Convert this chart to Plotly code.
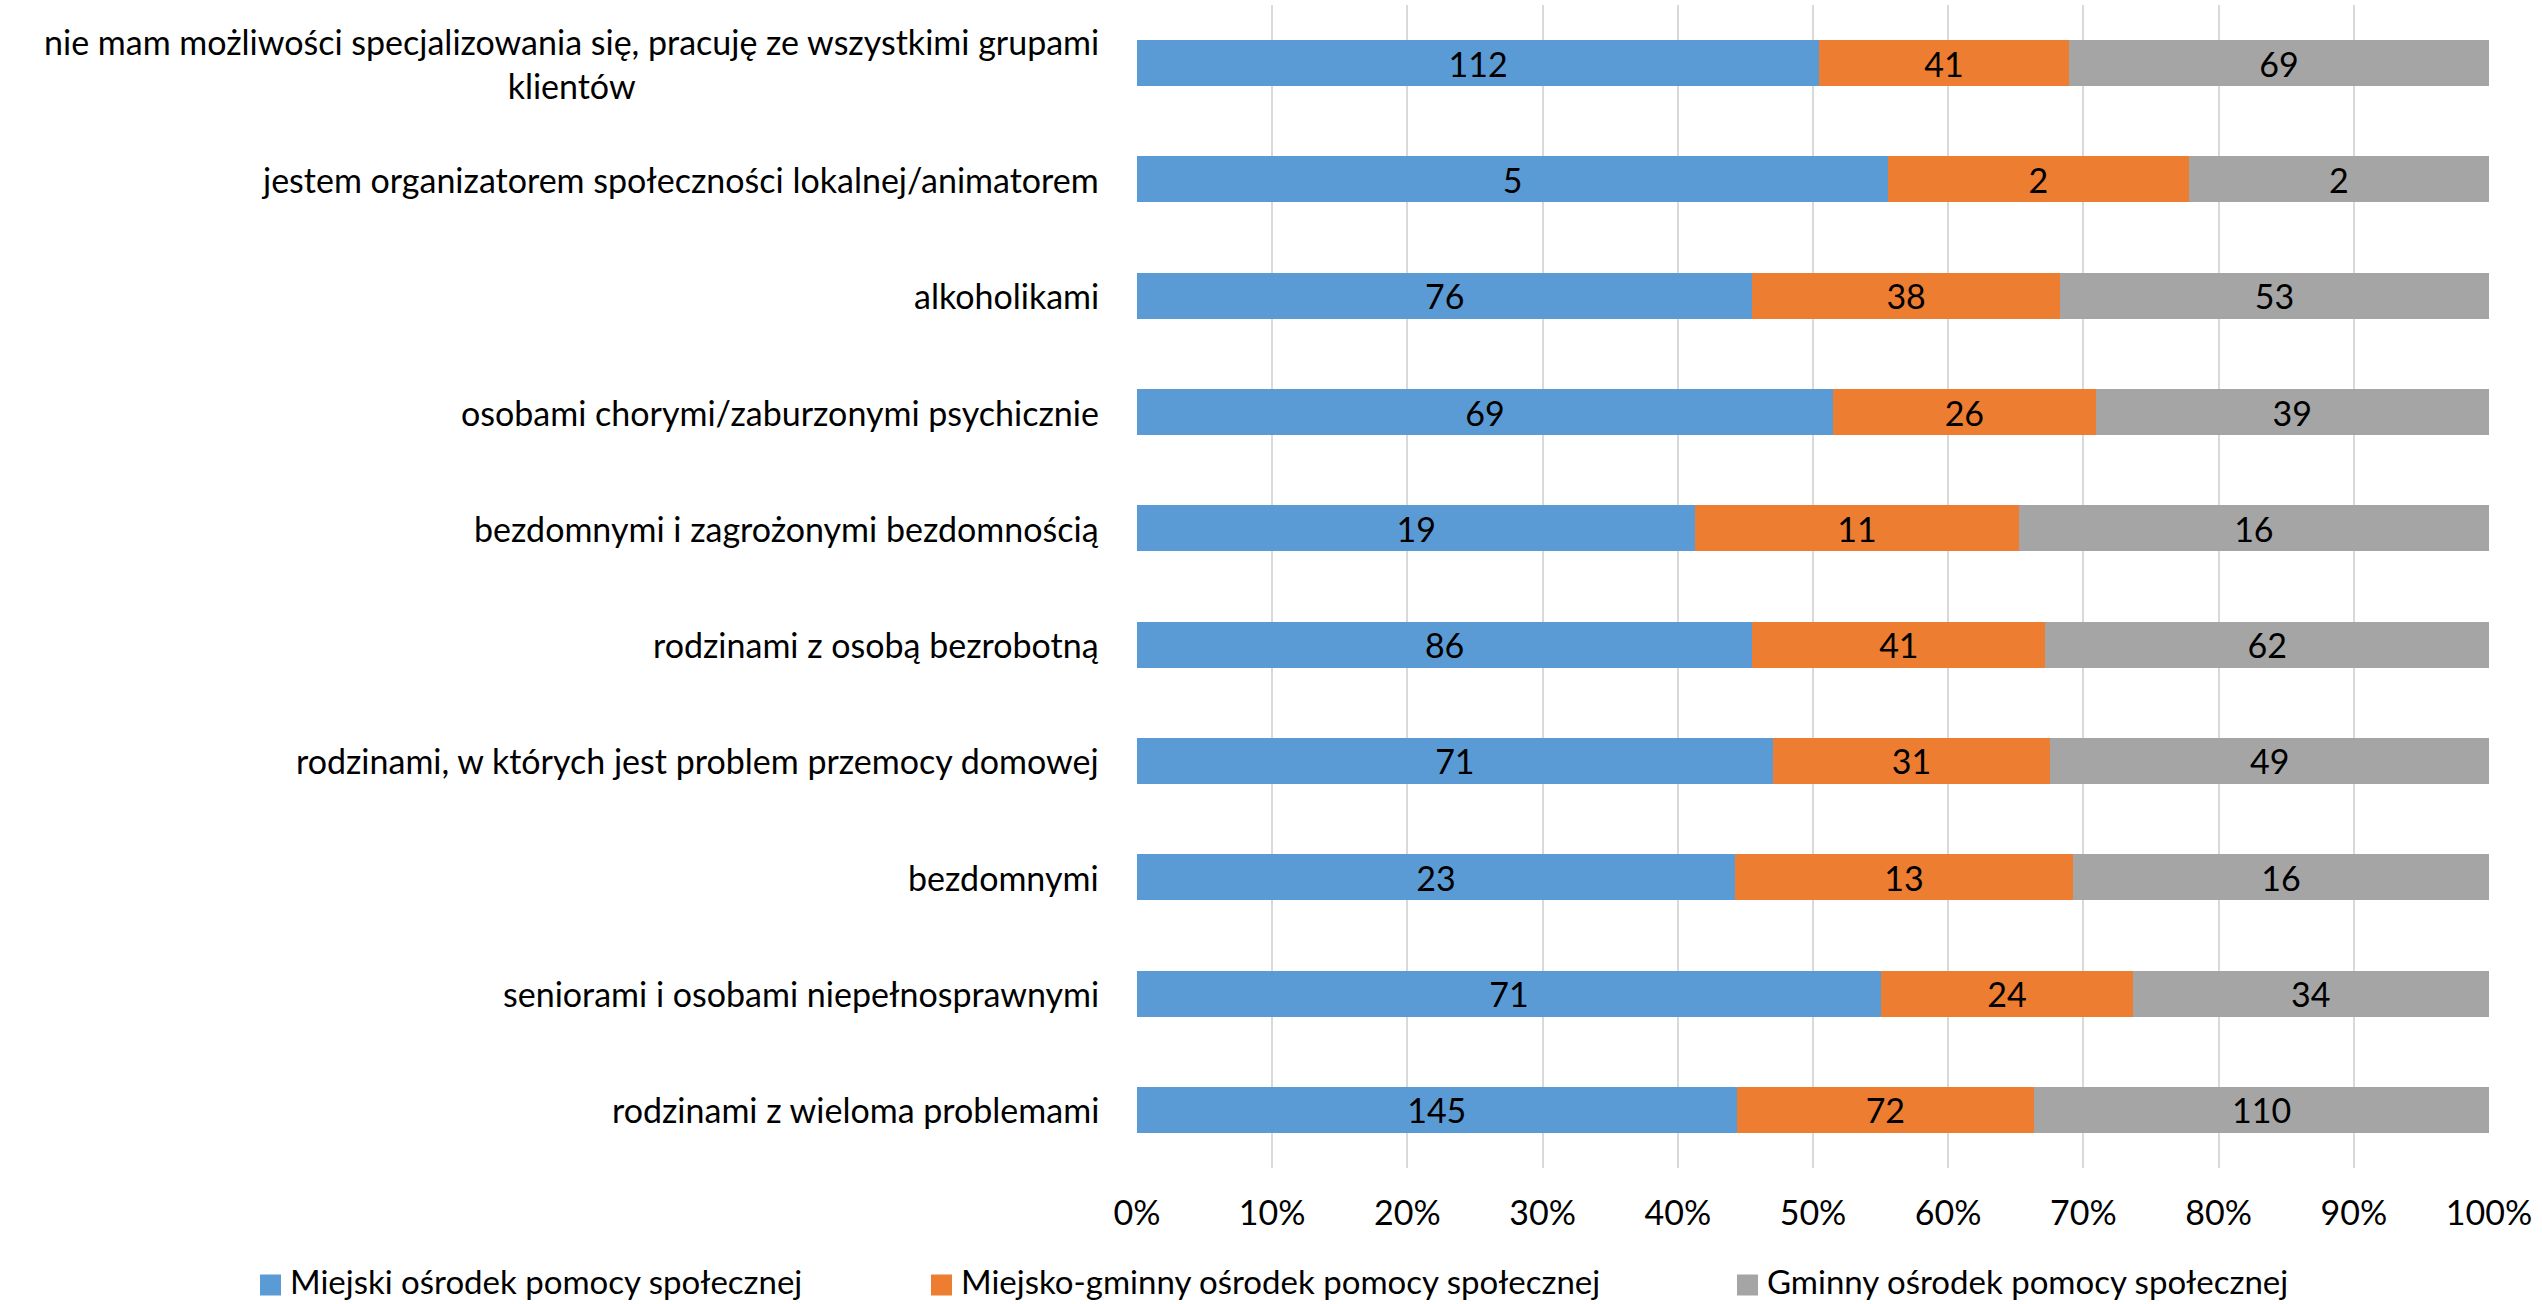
import plotly.graph_objects as go

# Categories, listed top to bottom
categories = [
    "nie mam możliwości specjalizowania się, pracuję ze wszystkimi grupami<br>klientów",
    "jestem organizatorem społeczności lokalnej/animatorem",
    "alkoholikami",
    "osobami chorymi/zaburzonymi psychicznie",
    "bezdomnymi i zagrożonymi bezdomnością",
    "rodzinami z osobą bezrobotną",
    "rodzinami, w których jest problem przemocy domowej",
    "bezdomnymi",
    "seniorami i osobami niepełnosprawnymi",
    "rodzinami z wieloma problemami",
]

series_names = [
    "Miejski ośrodek pomocy społecznej",
    "Miejsko-gminny ośrodek pomocy społecznej",
    "Gminny ośrodek pomocy społecznej",
]

miejski = [112, 5, 76, 69, 19, 86, 71, 23, 71, 145]
miejsko_gminny = [41, 2, 38, 26, 11, 41, 31, 13, 24, 72]
gminny = [69, 2, 53, 39, 16, 62, 49, 16, 34, 110]

tick_values = [0, 10, 20, 30, 40, 50, 60, 70, 80, 90, 100]
tick_labels = ["0%", "10%", "20%", "30%", "40%", "50%", "60%", "70%", "80%", "90%", "100%"]

colors = ["#5B9BD5", "#ED7D31", "#A5A5A5"]
FONT = "Lato"
FS = 34
LEGEND_FS = 33
PLOT_LEFT = 1137  # left margin in px
PLOT_BOTTOM = 1168  # bottom edge of the plot area in px

fig = go.Figure()
for name, vals, col in zip(series_names, [miejski, miejsko_gminny, gminny], colors):
    fig.add_trace(go.Bar(
        y=categories, x=vals, name=name, orientation="h",
        marker=dict(color=col, line=dict(width=0)),
        text=[str(v) for v in vals],
        textposition="inside", insidetextanchor="middle", textangle=0,
        textfont=dict(family=FONT, size=FS, color="black"),
        showlegend=False,
    ))

fig.update_layout(
    width=2542, height=1304,
    margin=dict(l=PLOT_LEFT, r=53, t=5, b=1304 - PLOT_BOTTOM),
    barmode="stack", barnorm="percent", bargap=0.604,
    plot_bgcolor="white", paper_bgcolor="white",
    font=dict(family=FONT, size=FS, color="black"),
    uniformtext=dict(minsize=FS, mode="show"),
)
fig.update_xaxes(
    range=[0, 100], tickvals=tick_values, ticktext=tick_labels,
    showgrid=True, gridcolor="#D9D9D9", gridwidth=2,
    zeroline=False, showline=False, ticks="",
    ticklabelstandoff=22,
    tickfont=dict(family=FONT, size=FS, color="black"),
)
fig.update_yaxes(
    autorange="reversed", showticklabels=False, showgrid=False,
    zeroline=False, showline=False, ticks="",
)

# Category labels, right-aligned beside the bars (wrapped lines centred)
for cat in categories:
    fig.add_annotation(
        x=0, xref="paper", y=cat, yref="y", xanchor="right", yanchor="middle",
        xshift=-36, text=cat, showarrow=False, align="center",
        font=dict(family=FONT, size=FS, color="black"),
    )

# Legend row below the axis: colour square followed by series name
legend_marker_px = [260, 931, 1737]
marker_center_y = 1285
text_center_y = 1281
for name, col, mx in zip(series_names, colors, legend_marker_px):
    fig.add_shape(
        type="rect", xref="paper", yref="paper",
        xsizemode="pixel", ysizemode="pixel", xanchor=0, yanchor=0,
        x0=mx - PLOT_LEFT, x1=mx - PLOT_LEFT + 21,
        y0=PLOT_BOTTOM - marker_center_y - 10.5, y1=PLOT_BOTTOM - marker_center_y + 10.5,
        fillcolor=col, line=dict(width=0),
    )
    fig.add_annotation(
        x=0, xref="paper", y=0, yref="paper", xanchor="left", yanchor="middle",
        xshift=mx - PLOT_LEFT + 29, yshift=PLOT_BOTTOM - text_center_y,
        text=name, showarrow=False, borderpad=0,
        font=dict(family=FONT, size=LEGEND_FS, color="black"),
    )

fig.write_html("out.html")
